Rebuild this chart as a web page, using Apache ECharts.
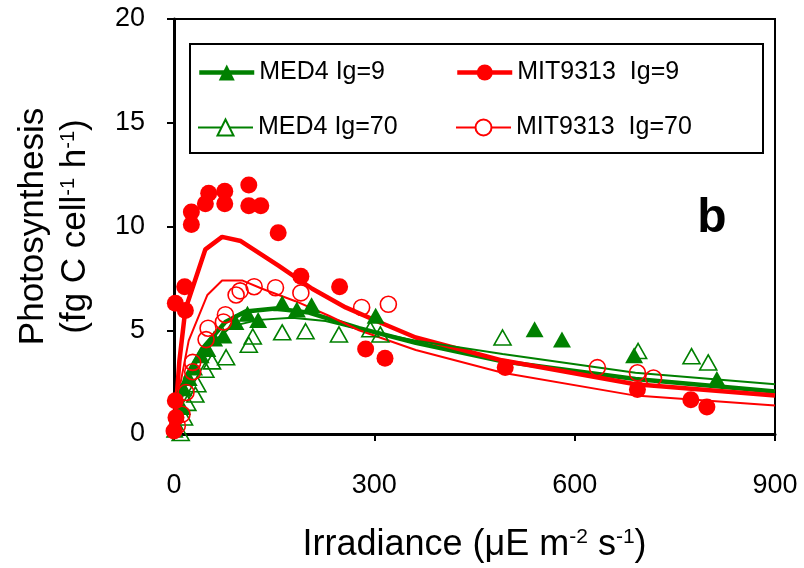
<!DOCTYPE html>
<html>
<head>
<meta charset="utf-8">
<script src="https://cdn.jsdelivr.net/npm/echarts@6/dist/echarts.min.js"></script>
<style>html,body{margin:0;padding:0;background:#fff}#c{width:804px;height:568px}</style>
</head>
<body>
<div id="c"></div>
<script>
// ---- data ----
const xTicks = [0, 300, 600, 900];
const yTicks = [0, 5, 10, 15, 20];

const names = ['MED4 Ig=9', 'MIT9313  Ig=9', 'MED4 Ig=70', 'MIT9313  Ig=70'];

// measured points
const med4Ig9Pts = [[1,0.2],[12,1.3],[14,2.2],[22,2.7],[30,3.2],[40,3.8],[50,4.1],[60,4.6],[74,4.75],[92,5.4],[110,5.8],[126,5.5],[162,6.3],[184,6.0],[206,6.2],[302,5.7],[540,5.05],[581,4.55],[689,3.8],[813,2.65]];
const mit9313Ig9Pts = [[0,0.15],[3,0.8],[2,1.6],[2,6.3],[17,5.95],[16,7.1],[26,10.1],[26,10.7],[47,11.1],[52,11.6],[76,11.1],[76,11.7],[112,12.0],[112,11.0],[130,11.0],[156,9.7],[190,7.6],[248,7.1],[287,4.1],[316,3.65],[496,3.2],[694,2.15],[774,1.65],[798,1.3]];
const med4Ig70Pts = [[10,0.05],[15,0.8],[20,1.5],[32,1.9],[35,2.4],[47,3.1],[57,3.5],[78,3.7],[112,4.3],[118,4.7],[162,4.9],[197,4.95],[247,4.8],[294,5.05],[309,4.8],[492,4.65],[695,4.0],[775,3.75],[800,3.45]];
const mit9313Ig70Pts = [[5,0.4],[12,0.95],[18,2.0],[28,3.0],[28,3.45],[48,4.55],[51,5.1],[74,5.4],[77,5.75],[93,6.7],[99,6.9],[120,7.1],[152,7.05],[190,6.8],[281,6.1],[321,6.25],[634,3.2],[694,2.95],[718,2.7]];

// fitted curves
const med4Ig9Fit = [[0,0],[8,1.5],[17,2.7],[42,4.1],[77,5.4],[107,5.9],[152,6.05],[202,5.85],[277,5.1],[362,4.4],[492,3.5],[691,2.65],[900,2.05]];
const med4Ig70Fit = [[0,0],[10,1.5],[22,2.9],[52,4.25],[87,5.2],[127,5.5],[177,5.6],[227,5.45],[277,5.05],[362,4.5],[492,3.85],[691,2.95],[900,2.4]];
const mit9313Ig9Fit = [[0,0],[8,3.5],[17,6.0],[47,8.9],[72,9.5],[100,9.3],[157,8.1],[207,7.0],[257,6.1],[307,5.4],[362,4.65],[491,3.55],[691,2.4],[900,1.85]];
const mit9313Ig70Fit = [[0,0],[10,2.5],[22,4.5],[50,6.7],[72,7.4],[102,7.4],[132,7.0],[182,6.4],[232,5.7],[277,5.0],[362,4.05],[492,2.95],[691,1.85],[900,1.37]];

// ---- chart ----
const GREEN = '#008000', RED = '#ff0000';
const FONT = 'Liberation Sans, Arial, sans-serif';

function fitSeries(name, data, color, width, symbol) {
  return {
    type: 'line', name: name, data: data, smooth: false,
    showSymbol: false, symbol: symbol, symbolSize: 16,
    lineStyle: { color: color, width: width },
    itemStyle: { color: color },
    silent: true, z: 2
  };
}
function ptSeries(name, data, color, symbol, size, filled, z) {
  return {
    type: 'scatter', name: name, data: data,
    symbol: symbol, symbolSize: size,
    itemStyle: filled ? { color: color, opacity: 1 } : { color: 'rgba(0,0,0,0)', borderColor: color, borderWidth: 1.6, opacity: 1 },
    z: z
  };
}
function legendAt(name, left, top, lw) {
  return {
    data: [name], left: left, top: top, orient: 'horizontal',
    itemWidth: 55, itemHeight: 20, padding: 0,
    lineStyle: { width: lw },
    textStyle: { fontFamily: FONT, fontSize: 25, color: '#000', lineHeight: 20 },
    selectedMode: false
  };
}

const chart = echarts.init(document.getElementById('c'), null, { renderer: 'canvas' });
chart.setOption({
  animation: false,
  backgroundColor: '#fff',
  grid: { left: 174, right: 29, top: 19, bottom: 131, show: true, borderColor: '#000', borderWidth: 2, backgroundColor: 'transparent' },
  xAxis: {
    type: 'value', min: xTicks[0], max: xTicks[xTicks.length - 1], interval: 300,
    axisLine: { lineStyle: { color: '#000', width: 3 } },
    axisTick: { show: true, inside: false, length: 7, lineStyle: { color: '#000', width: 2 } },
    axisLabel: { fontFamily: FONT, fontSize: 27, color: '#000', margin: 38 },
    splitLine: { show: false },
    name: '{a|Irradiance (μE m}{s|-2}{a| s}{s|-1}{a|)}',
    nameLocation: 'middle', nameGap: 93,
    nameTextStyle: {
      rich: {
        a: { fontFamily: FONT, fontSize: 36, color: '#000' },
        s: { fontFamily: FONT, fontSize: 21, color: '#000', padding: [0, 0, 15, 0] }
      }
    }
  },
  yAxis: {
    type: 'value', min: yTicks[0], max: yTicks[yTicks.length - 1], interval: 5,
    axisLine: { lineStyle: { color: '#000', width: 3 } },
    axisTick: { show: true, inside: false, length: 7, lineStyle: { color: '#000', width: 2 } },
    axisLabel: { fontFamily: FONT, fontSize: 27, color: '#000', margin: 29 },
    splitLine: { show: false },
    name: '{a|Photosynthesis}\n{a|(fg C cell}{s|-1}{a| h}{s|-1}{a|)}',
    nameLocation: 'middle', nameGap: 78, nameRotate: 90,
    nameTextStyle: {
      lineHeight: 42,
      rich: {
        a: { fontFamily: FONT, fontSize: 35, color: '#000', lineHeight: 42 },
        s: { fontFamily: FONT, fontSize: 20, color: '#000', lineHeight: 42, padding: [0, 0, 14, 0] }
      }
    }
  },
  legend: [
    legendAt(names[0], 197, 60, 4.5),
    legendAt(names[1], 455, 60, 4.5),
    legendAt(names[2], 197, 115, 2),
    legendAt(names[3], 455, 115, 2)
  ],
  graphic: [
    { type: 'rect', shape: { x: 190, y: 44, width: 573, height: 109 }, style: { fill: 'none', stroke: '#000', lineWidth: 2 }, z: 100 },
    { type: 'text', x: 712, y: 219, style: { text: 'b', fontFamily: FONT, fontWeight: 'bold', fontSize: 48, fill: '#000', align: 'center', verticalAlign: 'middle' }, z: 100 }
  ],
  series: [
    fitSeries(names[0], med4Ig9Fit, GREEN, 4.5, 'triangle'),
    fitSeries(names[1], mit9313Ig9Fit, RED, 4.5, 'circle'),
    fitSeries(names[2], med4Ig70Fit, GREEN, 2, 'emptyTriangle'),
    fitSeries(names[3], mit9313Ig70Fit, RED, 2, 'emptyCircle'),
    ptSeries(names[2], med4Ig70Pts, GREEN, 'triangle', [17, 15], false, 3),
    ptSeries(names[0], med4Ig9Pts, GREEN, 'triangle', [18, 16], true, 4),
    ptSeries(names[3], mit9313Ig70Pts, RED, 'circle', 16, false, 5),
    ptSeries(names[1], mit9313Ig9Pts, RED, 'circle', 17, true, 6)
  ]
});
</script>
</body>
</html>
